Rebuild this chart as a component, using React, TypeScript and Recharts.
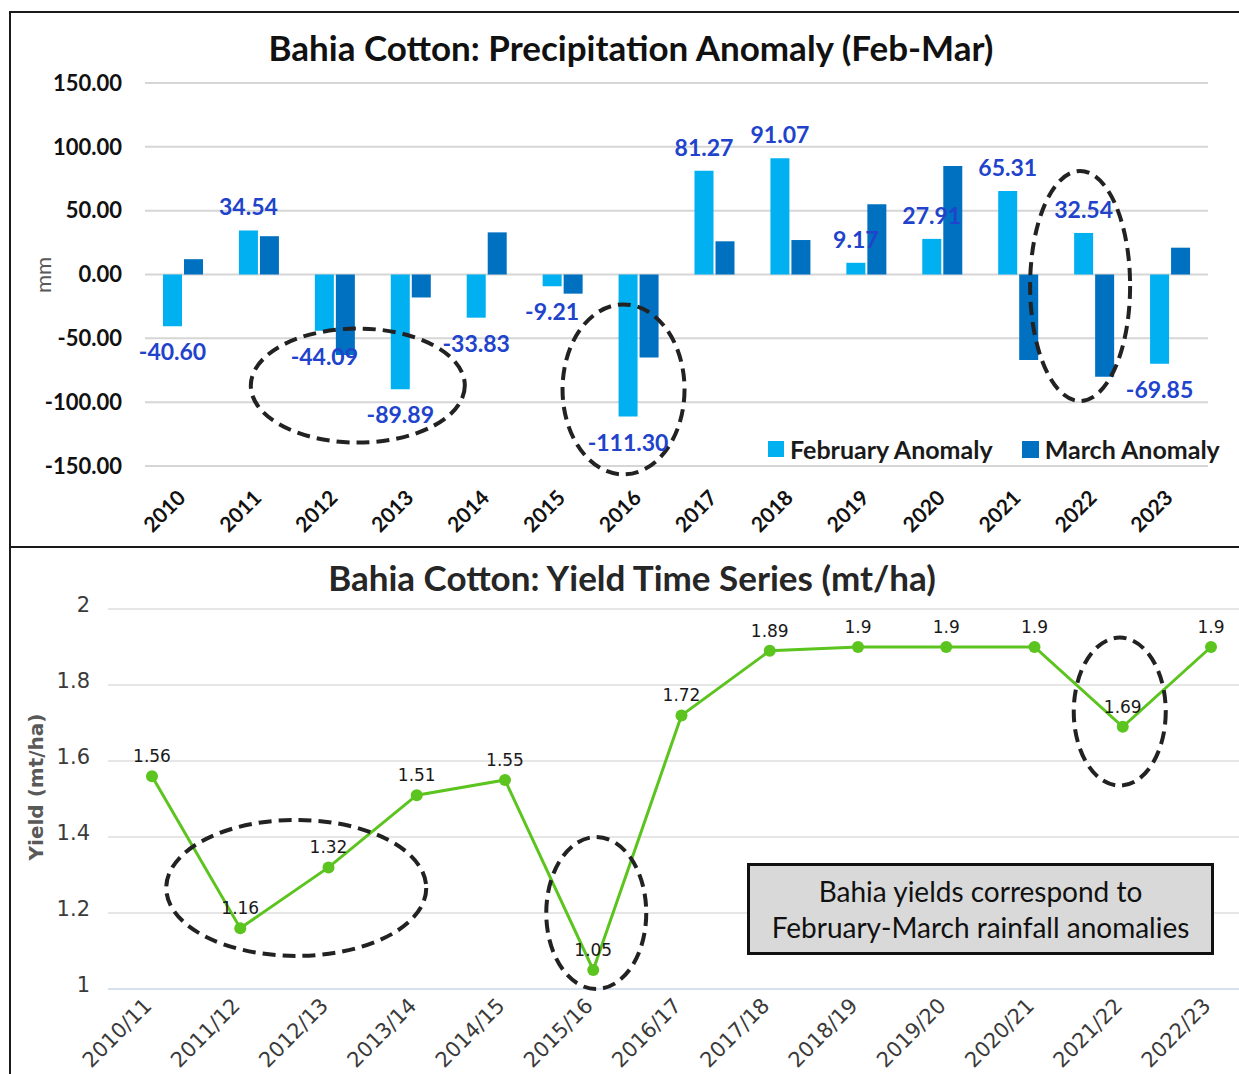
import React from 'react'
import {
  BarChart,
  Bar,
  LineChart,
  Line,
  XAxis,
  YAxis,
  CartesianGrid,
  LabelList,
  ReferenceDot,
} from 'recharts'

const YEARS = ['2010', '2011', '2012', '2013', '2014', '2015', '2016', '2017', '2018', '2019', '2020', '2021', '2022', '2023']
const FEB_ANOMALY = [-40.6, 34.54, -44.09, -89.89, -33.83, -9.21, -111.3, 81.27, 91.07, 9.17, 27.91, 65.31, 32.54, -69.85]
const MAR_ANOMALY = [12, 30, -63, -18, 33, -15, -65, 26, 27, 55, 85, -67, -80, 21]
const ANOMALY_TICKS = [-150, -100, -50, 0, 50, 100, 150]

const SEASONS = ['2010/11', '2011/12', '2012/13', '2013/14', '2014/15', '2015/16', '2016/17', '2017/18', '2018/19', '2019/20', '2020/21', '2021/22', '2022/23']
const YIELDS = [1.56, 1.16, 1.32, 1.51, 1.55, 1.05, 1.72, 1.89, 1.9, 1.9, 1.9, 1.69, 1.9]
const YIELD_TICKS = [1, 1.2, 1.4, 1.6, 1.8, 2]

const anomalyData = YEARS.map((year, i) => ({ year, feb: FEB_ANOMALY[i], mar: MAR_ANOMALY[i] }))
const yieldData = SEASONS.map((season, i) => ({ season, yield: YIELDS[i] }))

const FEB_COLOR = '#00B0F0'
const MAR_COLOR = '#0070C0'
const LABEL_BLUE = '#2143CC'
const GREEN = '#5CC41E'
const CAL = 'Lato, "Open Sans", sans-serif'
const VER = '"DejaVu Sans", Verdana, sans-serif'

// dashed ellipse drawn around a data point (dx shifts it sideways in px)
function dashedEllipse(rx: number, ry: number, dx = 0) {
  return (p: any) => (
    <ellipse
      cx={p.cx + dx}
      cy={p.cy}
      rx={rx}
      ry={ry}
      fill="none"
      stroke="#222"
      strokeWidth={4}
      strokeDasharray="13 7"
    />
  )
}

function YearTick({ x, y, payload }: any) {
  const ax = x - 2
  const ay = y + 27
  return (
    <text
      x={ax}
      y={ay}
      transform={`rotate(-45 ${ax} ${ay})`}
      textAnchor="end"
      dominantBaseline="central"
      fontFamily={CAL}
      fontWeight={700}
      fontSize={21}
      fill="#111"
    >
      {payload.value}
    </text>
  )
}

function SeasonTick({ x, y, payload }: any) {
  const ax = x - 4
  const ay = y + 13
  return (
    <text
      x={ax}
      y={ay}
      transform={`rotate(-45 ${ax} ${ay})`}
      textAnchor="end"
      dominantBaseline="central"
      fontFamily={VER}
      fontSize={21}
      fill="#3a3a3a"
    >
      {payload.value}
    </text>
  )
}

function YieldTick({ x, y, payload }: any) {
  return (
    <text
      x={x}
      y={y - 4}
      textAnchor="end"
      dominantBaseline="central"
      fontFamily={VER}
      fontSize={21}
      fill="#3a3a3a"
    >
      {payload.value}
    </text>
  )
}

function FebLabel({ x, y, width, height, value }: any) {
  const top = Math.min(y, y + height)
  const bottom = Math.max(y, y + height)
  const cy = value >= 0 ? top - 24 : bottom + 25
  return (
    <text
      x={x + width / 2}
      y={cy}
      textAnchor="middle"
      dominantBaseline="central"
      fontFamily={CAL}
      fontWeight={700}
      fontSize={23}
      fill={LABEL_BLUE}
    >
      {value.toFixed(2)}
    </text>
  )
}

function YieldLabel({ x, y, value }: any) {
  return (
    <text
      x={x}
      y={y - 20}
      textAnchor="middle"
      dominantBaseline="central"
      fontFamily={VER}
      fontSize={17}
      fill="#1a1a1a"
    >
      {value}
    </text>
  )
}

export default function App() {
  return (
    <div
      style={{
        position: 'absolute',
        left: 0,
        top: 0,
        width: 1239,
        height: 1074,
        overflow: 'hidden',
        background: '#fff',
      }}
    >
      {/* panel frames */}
      <div style={{ position: 'absolute', left: 9, top: 11, width: 1250, height: 537, border: '2px solid #1a1a1a', boxSizing: 'border-box' }} />
      <div style={{ position: 'absolute', left: 9, top: 546, width: 1250, height: 560, border: '2px solid #1a1a1a', boxSizing: 'border-box' }} />

      {/* top chart */}
      <div style={{ position: 'absolute', left: 0, top: 0 }}>
        <BarChart
          width={1239}
          height={546}
          data={anomalyData}
          margin={{ top: 83, right: 31, bottom: 0, left: 0 }}
          barSize={19}
          barGap={2}
        >
          <CartesianGrid vertical={false} stroke="#d6d6d6" strokeWidth={2} />
          <XAxis
            dataKey="year"
            axisLine={false}
            tickLine={false}
            tickSize={0}
            tickMargin={0}
            height={80}
            interval={0}
            tick={<YearTick />}
          />
          <YAxis
            domain={[-150, 150]}
            ticks={ANOMALY_TICKS}
            width={145}
            axisLine={false}
            tickLine={false}
            tickSize={0}
            tickMargin={23}
            tickFormatter={(v: number) => v.toFixed(2)}
            tick={{ fontFamily: CAL, fontWeight: 700, fontSize: 22, fill: '#111' }}
          />
          <Bar dataKey="feb" fill={FEB_COLOR} isAnimationActive={false}>
            <LabelList dataKey="feb" content={<FebLabel />} />
          </Bar>
          <Bar dataKey="mar" fill={MAR_COLOR} isAnimationActive={false} />
          <ReferenceDot x="2012" y={-87} r={1} shape={dashedEllipse(107, 57, 23)} />
          <ReferenceDot x="2016" y={-90} r={1} shape={dashedEllipse(61, 85, -15)} />
          <ReferenceDot x="2022" y={-9} r={1} shape={dashedEllipse(50, 115, -14)} />
        </BarChart>
      </div>

      <div
        style={{
          position: 'absolute',
          left: 0,
          width: 1262,
          top: 26,
          textAlign: 'center',
          fontFamily: CAL,
          fontWeight: 700,
          fontSize: 35,
          lineHeight: '42px',
          color: '#111',
          whiteSpace: 'nowrap',
        }}
      >
        Bahia Cotton: Precipitation Anomaly (Feb-Mar)
      </div>
      <div
        style={{
          position: 'absolute',
          left: 42,
          top: 275,
          transform: 'translate(-50%, -50%) rotate(-90deg)',
          fontFamily: CAL,
          fontSize: 22,
          color: '#595959',
        }}
      >
        mm
      </div>
      <div
        style={{
          position: 'absolute',
          left: 768,
          top: 434,
          display: 'flex',
          alignItems: 'center',
          fontFamily: CAL,
          fontWeight: 700,
          fontSize: 25,
          lineHeight: '30px',
          color: '#1a1a1a',
          whiteSpace: 'nowrap',
        }}
      >
        <span style={{ width: 16, height: 16, background: FEB_COLOR, marginRight: 6 }} />
        <span style={{ marginRight: 29 }}>February Anomaly</span>
        <span style={{ width: 17, height: 17, background: MAR_COLOR, marginRight: 6 }} />
        <span>March Anomaly</span>
      </div>

      {/* bottom chart */}
      <div style={{ position: 'absolute', left: 0, top: 546 }}>
        <LineChart
          width={1270}
          height={528}
          data={yieldData}
          margin={{ top: 63, right: 15, bottom: 0, left: 0 }}
        >
          <CartesianGrid vertical={false} stroke="#e6e6e6" strokeWidth={2} />
          <XAxis
            dataKey="season"
            padding={{ left: 44, right: 44 }}
            axisLine={{ stroke: '#d6e1f0', strokeWidth: 2 }}
            tickLine={false}
            tickSize={0}
            tickMargin={0}
            height={85}
            interval={0}
            tick={<SeasonTick />}
          />
          <YAxis
            domain={[1, 2]}
            ticks={YIELD_TICKS}
            width={108}
            axisLine={false}
            tickLine={false}
            tickSize={0}
            tickMargin={18}
            tick={<YieldTick />}
          />
          <Line
            type="linear"
            dataKey="yield"
            stroke={GREEN}
            strokeWidth={3}
            dot={{ r: 6, fill: GREEN, stroke: GREEN, strokeWidth: 0 }}
            isAnimationActive={false}
          >
            <LabelList dataKey="yield" content={<YieldLabel />} />
          </Line>
          <ReferenceDot x="2011/12" y={1.266} r={1} shape={dashedEllipse(130, 68, 56)} />
          <ReferenceDot x="2015/16" y={1.2} r={1} shape={dashedEllipse(50, 76, 3)} />
          <ReferenceDot x="2021/22" y={1.73} r={1} shape={dashedEllipse(46, 74, -3)} />
        </LineChart>
      </div>

      <div
        style={{
          position: 'absolute',
          left: 0,
          width: 1264,
          top: 556,
          textAlign: 'center',
          fontFamily: CAL,
          fontWeight: 700,
          fontSize: 35,
          lineHeight: '42px',
          color: '#262626',
          whiteSpace: 'nowrap',
        }}
      >
        Bahia Cotton: Yield Time Series (mt/ha)
      </div>
      <div
        style={{
          position: 'absolute',
          left: 36,
          top: 787,
          transform: 'translate(-50%, -50%) rotate(-90deg)',
          fontFamily: VER,
          fontWeight: 700,
          fontSize: 20,
          color: '#595959',
          whiteSpace: 'nowrap',
        }}
      >
        Yield (mt/ha)
      </div>
      <div
        style={{
          position: 'absolute',
          left: 747,
          top: 863,
          width: 467,
          height: 92,
          boxSizing: 'border-box',
          border: '3px solid #111',
          background: '#d9d9d9',
          display: 'flex',
          flexDirection: 'column',
          justifyContent: 'center',
          alignItems: 'center',
          fontFamily: CAL,
          fontSize: 28,
          lineHeight: '36px',
          color: '#111',
          whiteSpace: 'nowrap',
        }}
      >
        <div>Bahia yields correspond to</div>
        <div>February-March rainfall anomalies</div>
      </div>
    </div>
  )
}
